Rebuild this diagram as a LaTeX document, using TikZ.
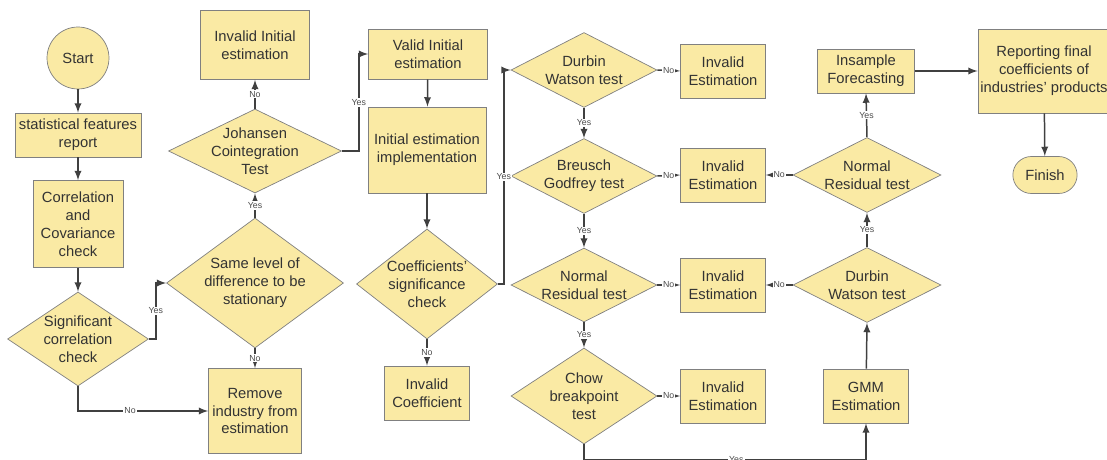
\documentclass[tikz,border=0pt]{standalone}
\usepackage{fontspec}
\setmainfont{Liberation Sans}
\usepackage{tikz}
\usetikzlibrary{calc,positioning,arrows,shapes}
\definecolor{boxfill}{RGB}{250,234,164}
\definecolor{boxline}{RGB}{128,128,128}
\definecolor{flowline}{RGB}{64,64,64}

\begin{document}
\begin{tikzpicture}[x=0.02cm, y=-0.02cm,
  every node/.style={font=\fontsize{8.4}{10.2}\selectfont, text=black!80},
  block/.style={rectangle, draw=boxline, fill=boxfill, align=center, inner sep=1pt},
  decision/.style={diamond, draw=boxline, fill=boxfill, inner sep=0pt},
  dtext/.style={align=center, inner sep=0pt},
  arr/.style={draw=flowline, line width=0.85pt, -latex},
  lbl/.style={fill=white, inner sep=0.6pt, font=\fontsize{5}{6}\selectfont, text=black!70}]
  \useasboundingbox (0,0) rectangle (1107,460);
  \clip (0,0) rectangle (1107,460);

  % first column
  \node[circle, draw=boxline, fill=boxfill, minimum size=1.24cm, inner sep=0pt] (start) at (78,58) {Start};
  \node[block, minimum width=2.52cm, minimum height=0.88cm] (stat) at (78,135) {statistical features\\report};
  \node[block, minimum width=1.8cm, minimum height=1.74cm] (corr) at (78,224) {Correlation\\and\\Covariance\\check};
  \node[decision, minimum width=2.82cm, minimum height=1.88cm,
    label={[dtext]center:{Significant\\correlation\\check}}] (sig) at (78,339) {};

  % stationarity and cointegration
  \node[decision, minimum width=3.54cm, minimum height=2.6cm,
    label={[dtext]center:{Same level of\\difference to be\\stationary}}] (same) at (255,283) {};
  \node[decision, minimum width=3.46cm, minimum height=1.68cm,
    label={[dtext]center:{Johansen\\Cointegration\\Test}}] (joh) at (255,151) {};
  \node[block, minimum width=2.18cm, minimum height=1.38cm] (invinit) at (255,45) {Invalid Initial\\estimation};
  \node[block, minimum width=1.86cm, minimum height=1.7cm] (remove) at (255,411) {Remove\\industry from\\estimation};

  % initial estimation
  \node[block, minimum width=2.38cm, minimum height=1cm] (valid) at (428,54) {Valid Initial\\estimation};
  \node[block, minimum width=2.36cm, minimum height=1.72cm] (impl) at (427,150) {Initial estimation\\implementation};
  \node[decision, minimum width=2.82cm, minimum height=2.2cm,
    label={[dtext]center:{Coefficients'\\significance\\check}}] (coef) at (427,284) {};
  \node[block, minimum width=1.7cm, minimum height=1.08cm] (invcoef) at (427,393) {Invalid\\Coefficient};

  % diagnostic tests
  \node[decision, minimum width=2.92cm, minimum height=1.5cm,
    label={[dtext]center:{Durbin\\Watson test}}] (dw1) at (584,70) {};
  \node[decision, minimum width=2.92cm, minimum height=1.5cm,
    label={[dtext]center:{Breusch\\Godfrey test}}] (bg) at (584,176) {};
  \node[decision, minimum width=2.92cm, minimum height=1.48cm,
    label={[dtext]center:{Normal\\Residual test}}] (nr1) at (584,285) {};
  \node[decision, minimum width=2.92cm, minimum height=1.92cm,
    label={[dtext]center:{Chow\\breakpoint\\test}}] (chow) at (584,396) {};
  \node[block, minimum width=1.7cm, minimum height=1.08cm] (inv1) at (723,71) {Invalid\\Estimation};
  \node[block, minimum width=1.7cm, minimum height=1.08cm] (inv2) at (723,175) {Invalid\\Estimation};
  \node[block, minimum width=1.7cm, minimum height=1.08cm] (inv3) at (723,285) {Invalid\\Estimation};
  \node[block, minimum width=1.7cm, minimum height=1.08cm] (inv4) at (723,396) {Invalid\\Estimation};

  % GMM branch
  \node[block, minimum width=1.7cm, minimum height=1.08cm] (gmm) at (866,396) {GMM\\Estimation};
  \node[decision, minimum width=2.96cm, minimum height=1.5cm,
    label={[dtext]center:{Durbin\\Watson test}}] (dw2) at (867,285) {};
  \node[decision, minimum width=2.96cm, minimum height=1.5cm,
    label={[dtext]center:{Normal\\Residual test}}] (nr2) at (867,175) {};
  \node[block, minimum width=1.94cm, minimum height=0.88cm] (ins) at (866,71) {Insample\\Forecasting};
  \node[block, minimum width=2.64cm, minimum height=1.68cm] (rep) at (1044,71) {Reporting final\\coefficients of\\industries' products};
  \node[rounded rectangle, draw=boxline, fill=boxfill, minimum width=1.52cm, minimum height=0.74cm] (fin) at (1045,175) {Finish};

  \draw[arr] (start) -- (stat);
  \draw[arr] (stat) -- (corr);
  \draw[arr] (corr) -- (sig.north);
  \draw[arr] (sig.east) -- ++(7,0) |- node[lbl, pos=0.25] {Yes} (same.west);
  \draw[arr] (sig.south) |- node[lbl, pos=0.7] {No} (remove.west);
  \draw[arr] (same.north) -- node[lbl] {Yes} (joh.south);
  \draw[arr] (same.south) -- node[lbl] {No} (remove.north);
  \draw[arr] (joh.north) -- node[lbl] {No} (invinit.south);
  \draw[arr] (joh.east) -- ++(17,0) |- node[lbl, pos=0.25] {Yes} (valid.west);
  \draw[arr] (valid) -- (impl);
  \draw[arr] (impl) -- (coef.north);
  \draw[arr] (coef.south) -- node[lbl] {No} (invcoef);
  \draw[arr] (coef.east) -- ++(6,0) |- node[lbl, pos=0.25] {Yes} (dw1.west);
  \draw[arr] (dw1.south) -- node[lbl] {Yes} (bg.north);
  \draw[arr] (bg.south) -- node[lbl] {Yes} (nr1.north);
  \draw[arr] (nr1.south) -- node[lbl] {Yes} (chow.north);
  \draw[arr] (dw1.east) -- node[lbl] {No} (inv1.west);
  \draw[arr] (bg.east) -- node[lbl] {No} (inv2.west);
  \draw[arr] (nr1.east) -- node[lbl] {No} (inv3.west);
  \draw[arr] (chow.east) -- node[lbl] {No} (inv4.west);
  \draw[arr] (chow.south) -- ++(0,15) -| node[lbl, pos=0.27] {Yes} (gmm.south);
  \draw[arr] (gmm) -- (dw2.south);
  \draw[arr] (dw2.west) -- node[lbl] {No} (inv3.east);
  \draw[arr] (dw2.north) -- node[lbl] {Yes} (nr2.south);
  \draw[arr] (nr2.west) -- node[lbl] {No} (inv2.east);
  \draw[arr] (nr2.north) -- node[lbl] {Yes} (ins.south);
  \draw[arr] (ins) -- (rep);
  \draw[arr] (rep) -- (fin);
\end{tikzpicture}
\end{document}
